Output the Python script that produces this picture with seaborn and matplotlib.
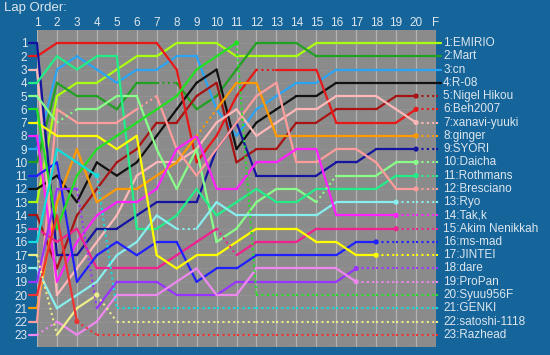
import pandas as pd
import matplotlib
matplotlib.use("Agg")
import matplotlib.pyplot as plt
import seaborn as sns

# Final classification order (label order on the right)
drivers = ["EMIRIO", "Mart", "cn", "R-08", "Nigel Hikou", "Beh2007", "xanavi-yuuki",
           "ginger", "SYORI", "Daicha", "Rothmans", "Bresciano", "Ryo", "Tak,k",
           "Akim Nenikkah", "ms-mad", "JINTEI", "dare", "ProPan", "Syuu956F",
           "GENKI", "satoshi-1118", "Razhead"]

lap_labels = [str(i) for i in range(1, 21)] + ["F"]

# Position at each lap column 1..20 (column "1" = grid); after retirement = final slot
pos_emirio = [13, 5, 4, 4, 3, 2, 2, 1, 1, 1, 2, 2, 2, 2, 1, 1, 1, 1, 1, 1]
pos_mart = [10, 4, 5, 5, 6, 4, 4, 4, 6, 5, 3, 1, 1, 1, 2, 2, 2, 2, 2, 2]
pos_cn = [9, 3, 2, 3, 4, 3, 3, 2, 2, 6, 8, 6, 5, 4, 4, 3, 3, 3, 3, 3]
pos_r08 = [12, 11, 13, 10, 11, 10, 8, 6, 4, 3, 9, 7, 6, 5, 5, 4, 4, 4, 4, 4]
pos_nigel = [14, 18, 14, 12, 10, 9, 7, 7, 5, 4, 10, 9, 9, 7, 7, 6, 6, 6, 5, 5]
pos_beh = [2, 1, 1, 1, 1, 1, 1, 3, 10, 8, 5, 3, 3, 3, 3, 7, 7, 7, 7, 6]
pos_xanavi = [3, 20, 18, 16, 14, 11, 10, 10, 9, 7, 6, 8, 7, 6, 6, 5, 5, 5, 6, 7]
pos_ginger = [21, 13, 9, 13, 12, 12, 11, 10, 8, 6, 4, 4, 8, 8, 8, 8, 8, 8, 8, 8]
pos_syori = [1, 17, 17, 15, 15, 14, 13, 13, 13, 9, 7, 11, 11, 11, 11, 10, 10, 9, 9, 9]
pos_daicha = [5, 7, 6, 6, 5, 5, 9, 12, 9, 16, 15, 13, 12, 12, 13, 11, 11, 11, 10, 10]
pos_rothmans = [4, 2, 3, 2, 2, 15, 15, 14, 12, 14, 13, 12, 13, 13, 12, 12, 12, 12, 11, 11]
pos_bresciano = [22, 6, 7, 7, 7, 6, 5, 9, 11, 9, 7, 5, 4, 10, 10, 9, 9, 10, 12, 12]
pos_ryo = [18, 21, 20, 19, 17, 16, 14, 15, 15, 13, 14, 14, 14, 14, 14, 13, 13, 13, 13, 13]
pos_tak = [8, 19, 16, 14, 13, 13, 12, 9, 8, 12, 12, 10, 10, 9, 9, 14, 14, 14, 14, 14]
pos_akim = [15, 16, 15, 18, 18, 18, 18, 17, 16, 15, 17, 16, 16, 16, 15, 15, 15, 15, 15, 15]
pos_msmad = [11, 10, 19, 17, 16, 17, 16, 16, 19, 18, 18, 17, 17, 17, 17, 17, 16, 16, 16, 16]
pos_jintei = [7, 8, 8, 8, 9, 8, 17, 18, 17, 17, 16, 15, 15, 15, 16, 16, 17, 17, 17, 17]
pos_dare = [19, 12, 12, 21, 19, 19, 19, 20, 20, 20, 19, 19, 19, 19, 19, 19, 18, 18, 18, 18]
pos_propan = [23, 22, 23, 22, 20, 20, 20, 19, 18, 20, 20, 18, 18, 18, 18, 18, 19, 19, 19, 19]
pos_syuu = [6, 15, 11, 9, 8, 7, 6, 5, 3, 2, 1, 20, 20, 20, 20, 20, 20, 20, 20, 20]
pos_genki = [16, 9, 10, 11, 21, 21, 21, 21, 21, 21, 21, 21, 21, 21, 21, 21, 21, 21, 21, 21]
pos_satoshi = [17, 23, 21, 20, 22, 22, 22, 22, 22, 22, 22, 22, 22, 22, 22, 22, 22, 22, 22, 22]
pos_razhead = [20, 14, 22, 23, 23, 23, 23, 23, 23, 23, 23, 23, 23, 23, 23, 23, 23, 23, 23, 23]

positions = [pos_emirio, pos_mart, pos_cn, pos_r08, pos_nigel, pos_beh, pos_xanavi,
             pos_ginger, pos_syori, pos_daicha, pos_rothmans, pos_bresciano, pos_ryo,
             pos_tak, pos_akim, pos_msmad, pos_jintei, pos_dare, pos_propan, pos_syuu,
             pos_genki, pos_satoshi, pos_razhead]

# last lap column (label number) driven before the line turns dotted
last_lap = [21, 21, 21, 21, 20, 20, 20, 20, 20, 20, 20, 20, 19, 19, 19, 18, 18, 17, 17, 11, 4, 4, 3]

# laps (label number) reached through a dotted (pit) segment
pit_laps = {"Mart": [8], "Daicha": [3, 16], "Bresciano": [7], "ginger": [10],
            "Beh2007": [13], "dare": [4], "Akim Nenikkah": [11], "Ryo": [9],
            "ProPan": [2], "satoshi-1118": [2]}

colors = ["#aaff11", "#22a022", "#2aa4f4", "#111111", "#a81414", "#e81818", "#ffb8b8",
          "#ff9a00", "#1414a0", "#88ff88", "#22ee88", "#ff9c9c", "#88eeee", "#ff22ff",
          "#f0208f", "#2020ff", "#ffff00", "#9933ff", "#ee88ee", "#22e022",
          "#11dddd", "#eeee88", "#ee3333"]
palette = dict(zip(drivers, colors))

bg = "#15659a"
txt = "#dde6ee"

# build segment table
rows = []
ends = []
seg_id = 0
for d, p, last in zip(drivers, positions, last_lap):
    ys = list(p) + [p[-1]]
    final = p[-1]
    # grid stub on the left
    rows.append((d, seg_id, -0.42, ys[0], "solid"))
    rows.append((d, seg_id, 0, ys[0], "solid"))
    seg_id += 1
    for k in range(1, 21):
        lap = k + 1
        dotted = lap > last or lap in pit_laps.get(d, [])
        st = "dotted" if dotted else "solid"
        rows.append((d, seg_id, k - 1, ys[k - 1], st))
        rows.append((d, seg_id, k, ys[k], st))
        seg_id += 1
    st = "solid" if last >= 21 else "dotted"
    rows.append((d, seg_id, 20, final, st))
    rows.append((d, seg_id, 20.27, final, st))
    seg_id += 1
    if last < 21:
        ends.append((d, last - 1, p[last - 1]))

df = pd.DataFrame(rows, columns=["driver", "seg", "x", "pos", "style"])
ends_df = pd.DataFrame(ends, columns=["driver", "x", "pos"])

sns.set_style("white")
plt.rcParams["font.family"] = ["Liberation Sans", "DejaVu Sans"]

fig = plt.figure(figsize=(5.5, 3.55), dpi=100, facecolor=bg)
ax = fig.add_axes([37 / 550, 1 - 347 / 355, 399 / 550, 317 / 355])
ax.set_facecolor("#8b8b8b")

for k in range(21):
    ax.axvline(k, color="#b2b2b2", lw=0.9, zorder=0)
for r in range(1, 24):
    ax.axhline(r, color="#a2a2a2", lw=0.6, ls=(0, (1, 2)), zorder=0)

sns.lineplot(data=df[df["style"] == "solid"], x="x", y="pos", hue="driver", units="seg",
             estimator=None, sort=False, palette=palette, legend=False, lw=1.6,
             clip_on=False, ax=ax)
sns.lineplot(data=df[df["style"] == "dotted"], x="x", y="pos", hue="driver", units="seg",
             estimator=None, sort=False, palette=palette, legend=False, lw=1.5,
             linestyle=(0, (1, 1.6)), clip_on=False, ax=ax)
sns.scatterplot(data=ends_df, x="x", y="pos", hue="driver", palette=palette, legend=False,
                s=14, linewidth=0, zorder=5, ax=ax)

for i, d in enumerate(drivers):
    ax.text(20.36, positions[i][-1], f"{positions[i][-1]}:{d}", color=txt, fontsize=8.5,
            va="center", ha="left", clip_on=False)

ax.set_xlim(0, 20)
ax.set_ylim(23.92, 0.02)
ax.xaxis.tick_top()
ax.set_xticks(range(21))
ax.set_xticklabels(lap_labels)
ax.set_yticks(range(1, 24))
ax.set_yticklabels([str(r) for r in range(1, 24)])
ax.tick_params(axis="both", length=0, colors=txt, labelsize=8.5)
ax.tick_params(axis="x", pad=0.5)
ax.tick_params(axis="y", pad=7)
ax.set_xlabel("")
ax.set_ylabel("")
for s in ax.spines.values():
    s.set_visible(False)

fig.text(4 / 550, 1 - 8 / 355, "Lap Order:", color=txt, fontsize=9.5, va="center", ha="left")

fig.savefig("out.png", dpi=100, facecolor=bg)
